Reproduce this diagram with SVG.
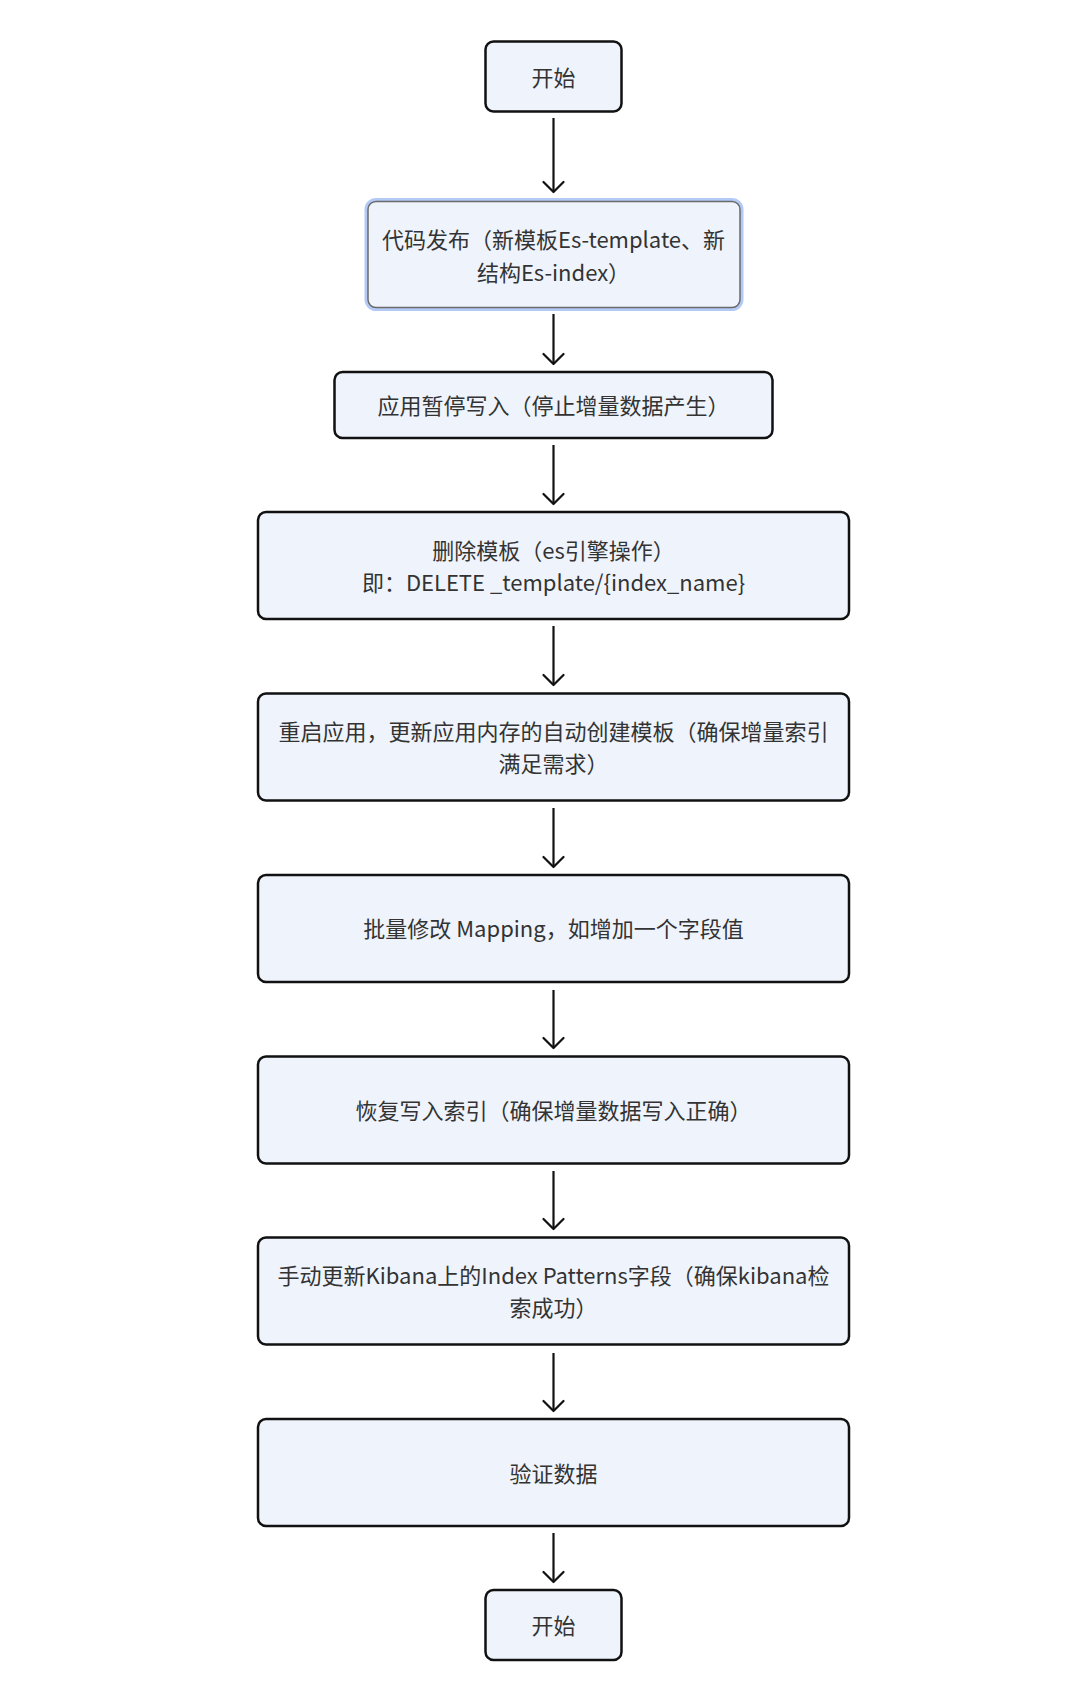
<svg xmlns="http://www.w3.org/2000/svg" width="1080" height="1691" viewBox="0 0 1080 1691">
<defs>
<style>
.box{fill:#eff3fc;stroke:#111;stroke-width:2.5}
.sel{fill:#eff3fc;stroke:#6a6a6a;stroke-width:1.5}
.glow{fill:none;stroke:#b3caf6;stroke-width:7}
.t{font-family:"Noto Sans CJK SC","Noto Sans",sans-serif;font-size:22px;fill:#333;text-anchor:middle;dominant-baseline:central}
.c{fill:none;stroke:#111;stroke-width:2.2;marker-end:url(#arr)}
</style>
<marker id="arr" viewBox="-12 -12 14 24" markerWidth="14" markerHeight="24" refX="0" refY="0" orient="auto" markerUnits="userSpaceOnUse">
<path d="M-10,-10 L0,0 L-10,10" fill="none" stroke="#111" stroke-width="2.2" stroke-linecap="round" stroke-linejoin="round"/>
</marker>
</defs>
<rect width="1080" height="1691" fill="#fff"/>
<g id="connectors">
<path class="c" d="M553.5,118 V192"/>
<path class="c" d="M553.5,314 V364"/>
<path class="c" d="M553.5,445 V504"/>
<path class="c" d="M553.5,626 V685"/>
<path class="c" d="M553.5,808 V867"/>
<path class="c" d="M553.5,990 V1048"/>
<path class="c" d="M553.5,1171 V1229"/>
<path class="c" d="M553.5,1353 V1411"/>
<path class="c" d="M553.5,1533 V1582"/>
</g>
<g id="n1">
<rect class="box" x="485.5" y="41.5" width="136" height="70" rx="8"/>
<text class="t" x="553.5" y="76">开始</text>
</g>
<g id="n2">
<rect class="glow" x="368" y="201.5" width="372" height="106" rx="8"/>
<rect class="sel" x="368" y="201.5" width="372" height="106" rx="8"/>
<text class="t" x="553.5" y="238">代码发布（新模板Es-template、新</text>
<text class="t" x="553.5" y="271">结构Es-index）</text>
</g>
<g id="n3">
<rect class="box" x="334.5" y="372" width="438" height="66" rx="8"/>
<text class="t" x="553.5" y="404">应用暂停写入（停止增量数据产生）</text>
</g>
<g id="n4">
<rect class="box" x="258" y="512" width="591" height="107" rx="8"/>
<text class="t" x="553.5" y="549">删除模板（es引擎操作）</text>
<text class="t" x="553.5" y="581">即：DELETE _template/{index_name}</text>
</g>
<g id="n5">
<rect class="box" x="258" y="693.5" width="591" height="107" rx="8"/>
<text class="t" x="553.5" y="730">重启应用，更新应用内存的自动创建模板（确保增量索引</text>
<text class="t" x="553.5" y="762">满足需求）</text>
</g>
<g id="n6">
<rect class="box" x="258" y="875" width="591" height="107" rx="8"/>
<text class="t" x="553.5" y="927">批量修改 Mapping，如增加一个字段值</text>
</g>
<g id="n7">
<rect class="box" x="258" y="1056.5" width="591" height="107" rx="8"/>
<text class="t" x="553.5" y="1109">恢复写入索引（确保增量数据写入正确）</text>
</g>
<g id="n8">
<rect class="box" x="258" y="1237.5" width="591" height="107" rx="8"/>
<text class="t" x="553.5" y="1274">手动更新Kibana上的Index Patterns字段（确保kibana检</text>
<text class="t" x="553.5" y="1306">索成功）</text>
</g>
<g id="n9">
<rect class="box" x="258" y="1419" width="591" height="107" rx="8"/>
<text class="t" x="553.5" y="1472">验证数据</text>
</g>
<g id="n10">
<rect class="box" x="485.5" y="1590" width="136" height="70" rx="8"/>
<text class="t" x="553.5" y="1624">开始</text>
</g>
</svg>
